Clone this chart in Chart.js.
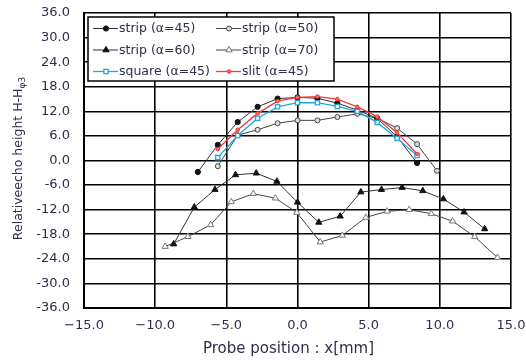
<!DOCTYPE html>
<html>
<head>
<meta charset="utf-8">
<script src="https://cdn.jsdelivr.net/npm/chart.js@4.4.1/dist/chart.umd.min.js"></script>
<style>
  body { margin: 0; background: #fff; }
  canvas { display: block; }
</style>
</head>
<body>
<canvas id="chart" width="526" height="360"></canvas>
<script>
// Series names (legend order)
const seriesNames = ['strip (\u03b1=45)', 'strip (\u03b1=50)', 'strip (\u03b1=60)', 'strip (\u03b1=70)', 'square (\u03b1=45)', 'slit (\u03b1=45)'];

// Values (x in mm, y in dB)
const strip45X = [-7.0, -5.6, -4.2, -2.8, -1.4, 0.0, 1.4, 2.8, 4.2, 5.6, 7.0, 8.4];
const strip45Y = [-2.8, 3.8, 9.4, 13.1, 15.1, 15.4, 15.2, 14.0, 12.3, 10.3, 5.8, -0.6];

const strip50X = [-5.6, -4.2, -2.8, -1.4, 0.0, 1.4, 2.8, 4.2, 5.6, 7.0, 8.4, 9.8];
const strip50Y = [-1.4, 6.2, 7.5, 9.1, 9.8, 9.8, 10.6, 11.4, 10.3, 7.9, 4.0, -2.5];

const strip60X = [-8.7, -7.25, -5.8, -4.35, -2.9, -1.45, 0.0, 1.5, 3.0, 4.45, 5.9, 7.35, 8.8, 10.25, 11.7, 13.15];
const strip60Y = [-20.4, -11.4, -7.1, -3.5, -3.1, -5.1, -10.2, -15.1, -13.6, -7.7, -7.1, -6.6, -7.4, -9.4, -12.6, -16.7];

const strip70X = [-9.3, -7.7, -6.1, -4.65, -3.1, -1.55, -0.05, 1.6, 3.15, 4.8, 6.3, 7.85, 9.4, 10.9, 12.45, 14.05];
const strip70Y = [-21.0, -18.6, -15.7, -10.1, -8.1, -9.2, -12.7, -19.9, -18.3, -13.9, -12.4, -12.0, -13.0, -14.8, -18.6, -23.7];

const squareX = [-5.6, -4.2, -2.8, -1.4, 0.0, 1.4, 2.8, 4.2, 5.6, 7.0, 8.4];
const squareY = [0.7, 6.1, 10.3, 13.1, 14.1, 14.1, 13.2, 12.0, 9.3, 5.4, 1.2];

const slitX = [-5.6, -4.2, -2.8, -1.4, 0.0, 1.4, 2.8, 4.2, 5.6, 7.0, 8.4];
const slitY = [2.8, 7.5, 11.5, 14.5, 15.4, 15.6, 15.0, 13.1, 10.7, 6.8, 1.6];

// Axis ranges / ticks
const xMin = -15, xMax = 15, xStep = 5;
const yMin = -36, yMax = 36, yStep = 6;
const xTitle = 'Probe position : x[mm]';
const yTitleMain = 'Relativeecho height H-H';
const yTitleSub = '\u03c63';

const textColor = '#2e2e4c';
const fontFamily = "'DejaVu Sans', sans-serif";

function pts(xs, ys) {
    return xs.map((x, i) => ({ x: x, y: ys[i] }));
}

const datasets = [
    { label: seriesNames[0], data: pts(strip45X, strip45Y), borderColor: '#333', borderWidth: 1,
      pointStyle: 'circle', pointRadius: 2.6, pointBackgroundColor: '#111', pointBorderColor: '#111', pointBorderWidth: 1, order: 2 },
    { label: seriesNames[1], data: pts(strip50X, strip50Y), borderColor: '#444', borderWidth: 1,
      pointStyle: 'circle', pointRadius: 2.5, pointBackgroundColor: '#ddd', pointBorderColor: '#444', pointBorderWidth: 1, order: 5 },
    { label: seriesNames[2], data: pts(strip60X, strip60Y), borderColor: '#333', borderWidth: 1,
      pointStyle: 'triangle', pointRadius: 3.6, pointBackgroundColor: '#111', pointBorderColor: '#111', pointBorderWidth: 1, order: 3 },
    { label: seriesNames[3], data: pts(strip70X, strip70Y), borderColor: '#444', borderWidth: 1,
      pointStyle: 'triangle', pointRadius: 3.6, pointBackgroundColor: '#fff', pointBorderColor: '#777', pointBorderWidth: 1, order: 4 },
    { label: seriesNames[4], data: pts(squareX, squareY), borderColor: '#22a6e0', borderWidth: 1.3,
      pointStyle: 'rect', pointRadius: 3, pointBackgroundColor: '#fff', pointBorderColor: '#22a6e0', pointBorderWidth: 1.3, order: 1 },
    { label: seriesNames[5], data: pts(slitX, slitY), borderColor: '#f23a3a', borderWidth: 1.3,
      pointStyle: 'circle', pointRadius: 1.8, pointBackgroundColor: '#f66', pointBorderColor: '#f23a3a', pointBorderWidth: 1, order: 0 }
];
datasets.forEach(d => { d.showLine = true; d.tension = 0; d.fill = false; });

// Titles (with subscript) and the boxed legend inside the plot
const decorations = {
    id: 'decorations',
    afterDraw(chart) {
        const ctx = chart.ctx;
        const area = chart.chartArea;
        ctx.save();

        // legend box
        const lx = area.left + 4, ly = area.top + 4, lw = 246, lh = 64;
        ctx.fillStyle = '#fff';
        ctx.fillRect(lx, ly, lw, lh);
        ctx.strokeStyle = '#000';
        ctx.lineWidth = 1.5;
        ctx.strokeRect(lx, ly, lw, lh);

        ctx.font = '12.5px ' + fontFamily;
        ctx.textBaseline = 'middle';
        ctx.textAlign = 'left';
        chart.data.datasets.forEach((d, i) => {
            const col = i % 2, row = Math.floor(i / 2);
            const x0 = lx + 5 + col * 123;
            const y0 = ly + 11.5 + row * 21.5;
            ctx.strokeStyle = d.borderColor;
            ctx.lineWidth = d.borderWidth;
            ctx.beginPath();
            ctx.moveTo(x0, y0);
            ctx.lineTo(x0 + 25, y0);
            ctx.stroke();
            ctx.fillStyle = d.pointBackgroundColor;
            ctx.strokeStyle = d.pointBorderColor;
            ctx.lineWidth = d.pointBorderWidth;
            Chart.helpers.drawPoint(ctx, { pointStyle: d.pointStyle, radius: d.pointRadius, rotation: 0, borderWidth: d.pointBorderWidth }, x0 + 13, y0);
            ctx.fillStyle = textColor;
            ctx.fillText(d.label, x0 + 26, y0 + 0.5);
        });

        // x title
        ctx.fillStyle = textColor;
        ctx.font = '15px ' + fontFamily;
        ctx.textAlign = 'center';
        ctx.textBaseline = 'middle';
        ctx.fillText(xTitle, (area.left + area.right) / 2 - 9, 349);

        // y title, rotated, with subscript
        ctx.translate(19, (area.top + area.bottom) / 2 - 2);
        ctx.rotate(-Math.PI / 2);
        ctx.textAlign = 'left';
        ctx.font = '12.5px ' + fontFamily;
        const wMain = ctx.measureText(yTitleMain).width;
        ctx.font = '9px ' + fontFamily;
        const wSub = ctx.measureText(yTitleSub).width;
        const start = -(wMain + wSub) / 2;
        ctx.font = '12.5px ' + fontFamily;
        ctx.fillText(yTitleMain, start, 0);
        ctx.font = '9px ' + fontFamily;
        ctx.fillText(yTitleSub, start + wMain, 4);
        ctx.restore();
    }
};

new Chart(document.getElementById('chart'), {
    type: 'scatter',
    data: { datasets: datasets },
    options: {
        responsive: false,
        animation: false,
        layout: { padding: { top: 13, right: 15, left: 0, bottom: 0 } },
        plugins: {
            legend: { display: false },
            tooltip: { enabled: false }
        },
        scales: {
            x: {
                type: 'linear',
                min: xMin, max: xMax,
                afterFit: (scale) => {
                    scale.height = 52;
                    scale.paddingLeft = 0;
                    scale.paddingRight = 0;
                },
                ticks: {
                    stepSize: xStep,
                    padding: 10,
                    color: textColor,
                    font: { family: fontFamily, size: 13 },
                    maxRotation: 0,
                    callback: (v) => (v < 0 ? '\u2212' + Math.abs(v).toFixed(1) : v.toFixed(1))
                },
                grid: { color: '#000', lineWidth: 1.6, drawTicks: false },
                border: { color: '#000', width: 2 }
            },
            y: {
                type: 'linear',
                min: yMin, max: yMax,
                afterFit: (scale) => {
                    scale.width = 84;
                    scale.paddingTop = 0;
                    scale.paddingBottom = 0;
                },
                ticks: {
                    stepSize: yStep,
                    padding: 14,
                    color: textColor,
                    font: { family: fontFamily, size: 13 },
                    callback: (v) => v.toFixed(1)
                },
                grid: { color: '#000', lineWidth: 1.6, drawTicks: false },
                border: { color: '#000', width: 2 }
            }
        }
    },
    plugins: [decorations]
});
</script>
</body>
</html>
